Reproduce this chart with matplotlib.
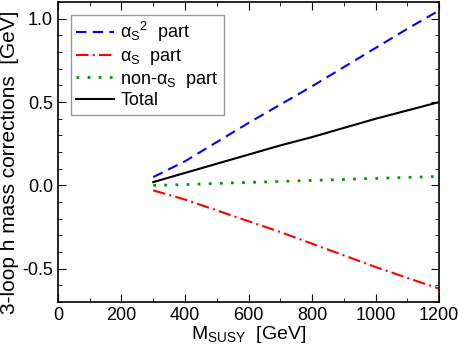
import numpy as np
import matplotlib
matplotlib.use('Agg')
import matplotlib.pyplot as plt
from matplotlib.ticker import MultipleLocator

plt.rcParams['font.family'] = ['Liberation Sans', 'DejaVu Sans']
plt.rcParams['mathtext.fontset'] = 'custom'
plt.rcParams['mathtext.rm'] = 'Liberation Sans'
plt.rcParams['mathtext.it'] = 'Liberation Sans:italic'
plt.rcParams['axes.unicode_minus'] = False

msusy = [300, 400, 500, 600, 700, 800, 900, 1000, 1100, 1200]
as2_part = [0.05, 0.145, 0.26, 0.375, 0.485, 0.595, 0.71, 0.825, 0.94, 1.05]
as_part = [-0.03, -0.085, -0.15, -0.215, -0.28, -0.35, -0.42, -0.49, -0.555, -0.62]
nonas_part = [0.0, 0.005, 0.012, 0.018, 0.024, 0.03, 0.036, 0.042, 0.048, 0.054]
total = [0.02, 0.075, 0.13, 0.185, 0.24, 0.29, 0.345, 0.40, 0.45, 0.50]

fig = plt.figure(figsize=(4.58, 3.47), dpi=100)
ax = fig.add_axes([0.1266, 0.1297, 0.832, 0.864])

ax.plot(msusy, as2_part, color='#0000ff', ls=(0, (5, 3)), lw=1.5,
        label='α$_{\\mathrm{S}}{}^{2}$  part')
ax.plot(msusy, as_part, color='#ff0000', ls=(0, (6, 2, 1, 2)), lw=1.5,
        label='α$_{\\mathrm{S}}$  part')
ax.plot(msusy, nonas_part, color='#009900', ls=(0, (1, 3)), lw=2,
        label='non-α$_{\\mathrm{S}}$  part')
ax.plot(msusy, total, color='black', lw=1.5, label='Total')

ax.set_xlim(0, 1200)
ax.set_ylim(-0.7, 1.1)
ax.xaxis.set_major_locator(MultipleLocator(200))
ax.xaxis.set_minor_locator(MultipleLocator(100))
ax.yaxis.set_major_locator(MultipleLocator(0.5))
ax.yaxis.set_minor_locator(MultipleLocator(0.1))
ax.tick_params(which='both', direction='in', top=True, right=True, labelsize=13)
ax.tick_params(which='major', length=6)
ax.tick_params(which='minor', length=3)
for s in ax.spines.values():
    s.set_linewidth(1.2)

ax.set_xlabel(r'M$_{\mathrm{SUSY}}$  [GeV]', fontsize=14, labelpad=0)
ax.set_ylabel('3-loop h mass corrections  [GeV]', fontsize=15)
ax.yaxis.set_label_coords(-0.102, 0.465)

leg = ax.legend(loc='upper left', fontsize=13, frameon=True, fancybox=False,
                edgecolor='gray', handlelength=2.1, labelspacing=0.15,
                borderaxespad=0.7, handletextpad=0.35, borderpad=0.3)
leg.get_frame().set_linewidth(1.0)

fig.savefig('out.png', dpi=100)
